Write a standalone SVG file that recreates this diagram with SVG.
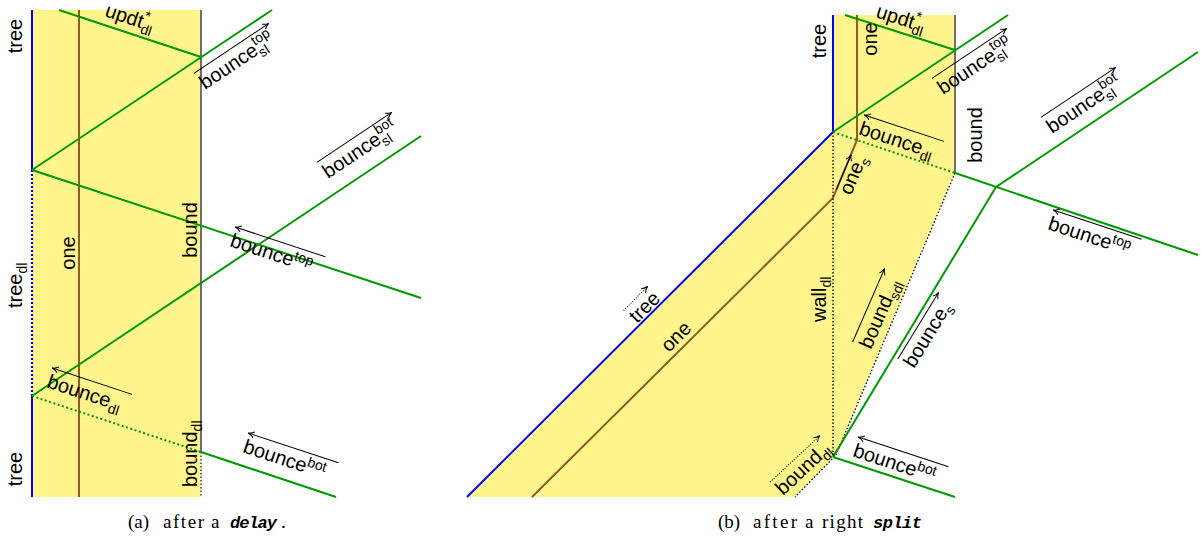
<svg xmlns="http://www.w3.org/2000/svg" width="1203" height="540" viewBox="0 0 1203 540">
<style>
.lbl{font-family:"Liberation Sans",Arial,sans-serif;font-size:20px;fill:#000}
.sb{font-size:14px}
.ov{stroke:#000;stroke-width:1;fill:none}
.ovd{stroke:#000;stroke-width:1;fill:none;stroke-dasharray:1 1.5}
.cap{font-family:"Liberation Serif","Times New Roman",serif;font-size:19px;fill:#000}
.tt{font-family:"Liberation Mono","Courier New",monospace;font-size:17px;font-style:italic;font-weight:bold;fill:#000}
.g{stroke:#009a00;stroke-width:2;fill:none}
.gd{stroke:#009a00;stroke-width:2;fill:none;stroke-dasharray:2 2.5}
.b{stroke:#0000ff;stroke-width:2;fill:none}
.bd{stroke:#0000ff;stroke-width:2.2;fill:none;stroke-dasharray:2 2}
.br{stroke:#955a22;stroke-width:2;fill:none}
.gr{stroke:#6e6e6e;stroke-width:2;fill:none}
.grd{stroke:#6e6e6e;stroke-width:2;fill:none;stroke-dasharray:1.5 2}
.kd{stroke:#000;stroke-width:1.3;fill:none;stroke-dasharray:1.5 2}
.y{fill:#fff58c;stroke:none}
</style>
<defs>
<marker id="ah" viewBox="0 0 8 8" refX="7" refY="4" markerWidth="8" markerHeight="8" markerUnits="userSpaceOnUse" orient="auto-start-reverse">
<path d="M1,1 Q4,3.5 7,4 Q4,4.5 1,7" fill="none" stroke="#000" stroke-width="1"/>
</marker>
</defs>

<g id="panel-a">
<rect class="y" x="32" y="10" width="169" height="487"/>
<g id="connectors-a">
<path class="br" d="M79,10 V497"/>
<path class="gr" d="M201,10 V452"/>
<path class="grd" d="M201,452 V497"/>
<path class="b" d="M32,10 V170"/>
<path class="bd" d="M32,170 V396"/>
<path class="b" d="M32,396 V497"/>
<path class="g" d="M59,10 L201,57"/>
<path class="g" d="M32,170 L272,10"/>
<path class="g" d="M32,170 L421,298"/>
<path class="g" d="M32,396 L421,136"/>
<path class="gd" d="M32,396 L201,452"/>
<path class="g" d="M201,452 L336,497"/>
</g>
<g id="labels-a">
<text class="lbl" transform="translate(22,36) rotate(-90)" text-anchor="middle">tree</text>
<text class="lbl" transform="translate(22,308) rotate(-90)">tree<tspan class="sb" dy="5">dl</tspan></text>
<text class="lbl" transform="translate(22,469) rotate(-90)" text-anchor="middle">tree</text>
<text class="lbl" transform="translate(75,253) rotate(-90)" text-anchor="middle">one</text>
<text class="lbl" transform="translate(197,230) rotate(-90)" text-anchor="middle">bound</text>
<text class="lbl" transform="translate(197,487) rotate(-90)">bound<tspan class="sb" dy="5">dl</tspan></text>
<g transform="translate(104,16) rotate(18.3)"><text class="lbl">updt<tspan class="sb" dy="5">dl</tspan><tspan class="sb" dx="-11" dy="-14">*</tspan></text></g>
<g transform="translate(205,90) rotate(-33.7)"><path class="ov" d="M0,-20 H90" marker-end="url(#ah)"/><text class="lbl">bounce<tspan class="sb" dy="5">sl</tspan><tspan class="sb" dx="-10" dy="-14">top</tspan></text></g>
<g transform="translate(328,179) rotate(-33.7)"><path class="ov" d="M0,-20 H90" marker-end="url(#ah)"/><text class="lbl">bounce<tspan class="sb" dy="5">sl</tspan><tspan class="sb" dx="-10" dy="-14">bot</tspan></text></g>
<g transform="translate(229,246) rotate(18.3)"><path class="ov" d="M0,-20 H95" marker-start="url(#ah)"/><text class="lbl">bounce<tspan class="sb" dy="-7">top</tspan></text></g>
<g transform="translate(46,387) rotate(18.3)"><path class="ov" d="M0,-20 H84" marker-start="url(#ah)"/><text class="lbl">bounce<tspan class="sb" dy="5">dl</tspan></text></g>
<g transform="translate(242,452) rotate(18.3)"><path class="ov" d="M0,-20 H95" marker-start="url(#ah)"/><text class="lbl">bounce<tspan class="sb" dy="-7">bot</tspan></text></g>
</g>
<g id="caption-a">
<text class="cap" x="128" y="528">(a)</text>
<text class="cap" x="163" y="528" textLength="41">after</text>
<text class="cap" x="211" y="528">a</text>
<text class="tt" x="230" y="528" textLength="47">delay</text>
<text class="cap" x="281" y="528">.</text>
</g>
</g>

<g id="panel-b">
<polygon class="y" points="833,15 955,15 955,173 836,455 795,497 467,497 833,132"/>
<g id="connectors-b">
<path class="br" d="M857,15 V140 L833,198 L532,497"/>
<path class="gr" d="M955,15 V173"/>
<path class="b" d="M833,15 V132 L467,497"/>
<path class="kd" d="M833,132 V457"/>
<path class="kd" d="M955,173 L836,455 L795,497"/>
<path class="g" d="M845,15 L955,50"/>
<path class="g" d="M833,132 L1008,15"/>
<path class="gd" d="M833,132 L955,173"/>
<path class="g" d="M955,173 L1198,255"/>
<path class="g" d="M996,187 L1198,52"/>
<path class="g" d="M996,187 L833,457"/>
<path class="g" d="M833,457 L955,497"/>
</g>
<g id="labels-b">
<text class="lbl" transform="translate(826,41) rotate(-90)" text-anchor="middle">tree</text>
<text class="lbl" transform="translate(877,39) rotate(-90)" text-anchor="middle">one</text>
<text class="lbl" transform="translate(982,135) rotate(-90)" text-anchor="middle">bound</text>
<text class="lbl" transform="translate(826,322) rotate(-90)">wall<tspan class="sb" dy="5">dl</tspan></text>
<g transform="translate(875,17) rotate(17.7)"><text class="lbl">updt<tspan class="sb" dy="5">dl</tspan><tspan class="sb" dx="-11" dy="-14">*</tspan></text></g>
<g transform="translate(943,95) rotate(-33.7)"><path class="ov" d="M0,-20 H90" marker-end="url(#ah)"/><text class="lbl">bounce<tspan class="sb" dy="5">sl</tspan><tspan class="sb" dx="-10" dy="-14">top</tspan></text></g>
<g transform="translate(1052,134) rotate(-33.7)"><path class="ov" d="M0,-20 H90" marker-end="url(#ah)"/><text class="lbl">bounce<tspan class="sb" dy="5">sl</tspan><tspan class="sb" dx="-10" dy="-14">bot</tspan></text></g>
<g transform="translate(858,134) rotate(18.3)"><path class="ov" d="M0,-20 H84" marker-start="url(#ah)"/><text class="lbl">bounce<tspan class="sb" dy="5">dl</tspan></text></g>
<g transform="translate(1047,229) rotate(18.3)"><path class="ov" d="M0,-20 H93" marker-start="url(#ah)"/><text class="lbl">bounce<tspan class="sb" dy="-7">top</tspan></text></g>
<g transform="translate(852,456) rotate(18.3)"><path class="ov" d="M0,-20 H95" marker-start="url(#ah)"/><text class="lbl">bounce<tspan class="sb" dy="-7">bot</tspan></text></g>
<g transform="translate(914,369) rotate(-58.5)"><path class="ov" d="M0,-19 H78" marker-end="url(#ah)"/><text class="lbl">bounce<tspan class="sb" dy="5">s</tspan></text></g>
<g transform="translate(871,350) rotate(-66.5)"><path class="ov" d="M0,-20 H80" marker-end="url(#ah)"/><text class="lbl">bound<tspan class="sb" dy="5">sdl</tspan></text></g>
<g transform="translate(851,196) rotate(-67)"><path class="ov" d="M0,-16 H38" marker-end="url(#ah)"/><text class="lbl">one<tspan class="sb" dy="5">s</tspan></text></g>
<g transform="translate(637,324) rotate(-45)"><path class="ovd" d="M0,-19 H34" marker-end="url(#ah)"/><text class="lbl">tree</text></g>
<g transform="translate(669,353) rotate(-45)"><text class="lbl">one</text></g>
<g transform="translate(783,496) rotate(-43)"><path class="ovd" d="M0,-19 H68" marker-end="url(#ah)"/><text class="lbl">bound<tspan class="sb" dy="5">dl</tspan></text></g>
</g>
<g id="caption-b">
<text class="cap" x="718" y="528">(b)</text>
<text class="cap" x="753" y="528" textLength="44">after</text>
<text class="cap" x="805" y="528">a</text>
<text class="cap" x="822" y="528" textLength="41">right</text>
<text class="tt" x="873" y="528" textLength="49">split</text>
</g>
</g>
</svg>
